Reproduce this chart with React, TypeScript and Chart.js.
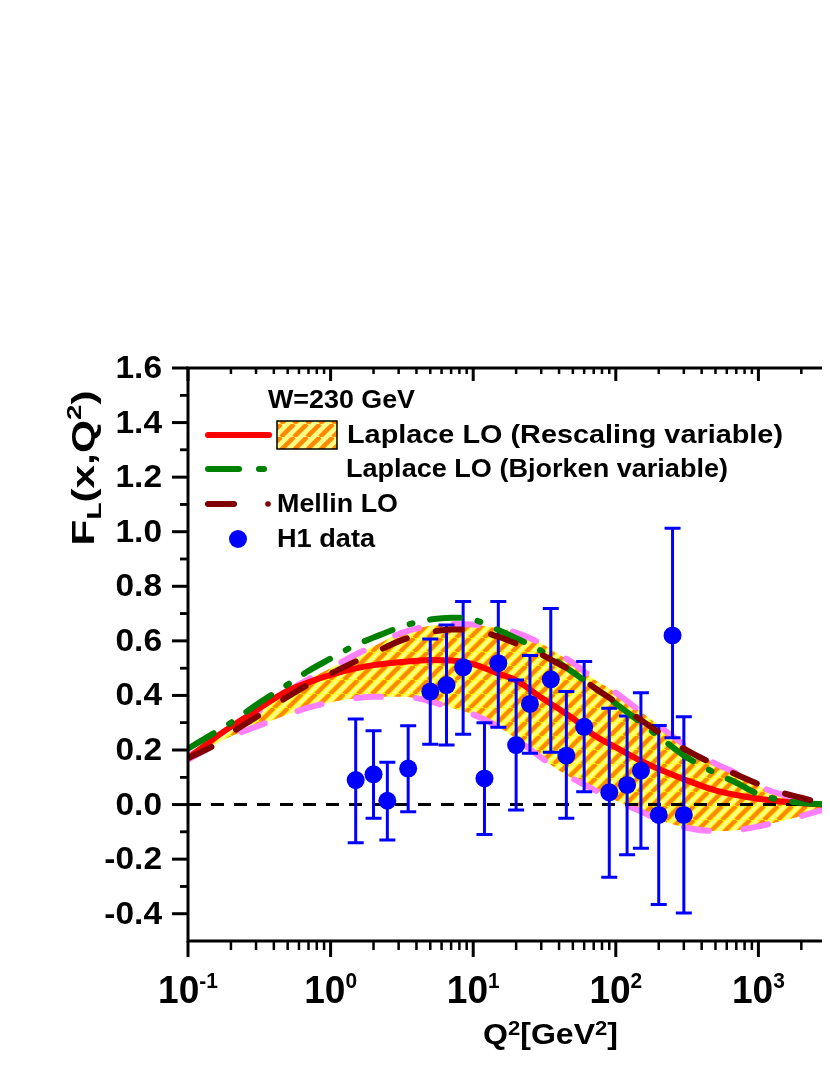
import React, { useEffect, useRef } from 'react';
import { Chart, registerables } from 'chart.js';

Chart.register(...registerables);

// ---------------- data ----------------
const q2Grid = [0.1, 0.15, 0.2, 0.3, 0.5, 0.7, 1, 1.5, 2, 3, 4, 5, 7, 10, 15, 20, 30, 40, 50, 70, 100, 150, 200, 300, 500, 700, 1000, 1500, 2000, 3000];
const laplaceRescaling = [0.17, 0.24, 0.285, 0.345, 0.417, 0.448, 0.475, 0.499, 0.511, 0.522, 0.527, 0.53, 0.528, 0.515, 0.48, 0.455, 0.392, 0.35, 0.316, 0.255, 0.21, 0.16, 0.13, 0.093, 0.052, 0.035, 0.021, 0.01, 0.005, 0.0];
const laplaceRescalingUpper = [0.178, 0.228, 0.27, 0.335, 0.415, 0.46, 0.5, 0.55, 0.58, 0.625, 0.645, 0.655, 0.662, 0.66, 0.645, 0.63, 0.59, 0.55, 0.52, 0.46, 0.41, 0.34, 0.29, 0.22, 0.15, 0.115, 0.068, 0.035, 0.018, 0.0];
const laplaceRescalingLower = [0.165, 0.215, 0.25, 0.285, 0.33, 0.355, 0.375, 0.39, 0.395, 0.395, 0.39, 0.378, 0.355, 0.33, 0.285, 0.24, 0.172, 0.125, 0.095, 0.055, 0.015, -0.025, -0.055, -0.083, -0.097, -0.094, -0.08, -0.058, -0.042, -0.015];
const laplaceBjorken = [0.205, 0.26, 0.3, 0.365, 0.44, 0.49, 0.535, 0.585, 0.612, 0.648, 0.668, 0.678, 0.685, 0.678, 0.64, 0.61, 0.563, 0.52, 0.485, 0.43, 0.37, 0.3, 0.25, 0.18, 0.115, 0.08, 0.038, 0.015, 0.006, 0.0];
const mellinLO = [0.17, 0.215, 0.262, 0.32, 0.395, 0.44, 0.48, 0.525, 0.555, 0.598, 0.62, 0.632, 0.642, 0.64, 0.615, 0.59, 0.55, 0.515, 0.487, 0.43, 0.375, 0.31, 0.265, 0.205, 0.145, 0.11, 0.075, 0.042, 0.025, 0.0];

const h1Q2 = [1.5, 2, 2.5, 3.5, 5, 6.5, 8.5, 12, 15, 20, 25, 35, 45, 60, 90, 120, 150, 200, 250, 300];
const h1FL = [0.09, 0.111, 0.014, 0.132, 0.414, 0.438, 0.503, 0.096, 0.518, 0.218, 0.369, 0.459, 0.179, 0.285, 0.045, 0.072, 0.124, -0.038, 0.62, -0.038];
const h1Low = [-0.14, -0.05, -0.13, -0.026, 0.221, 0.218, 0.258, -0.11, 0.283, -0.02, 0.188, 0.192, -0.05, 0.047, -0.266, -0.184, -0.16, -0.366, 0.245, -0.397];
const h1High = [0.314, 0.271, 0.155, 0.289, 0.607, 0.658, 0.744, 0.3, 0.744, 0.457, 0.546, 0.719, 0.414, 0.524, 0.353, 0.325, 0.41, 0.29, 1.013, 0.322];

const yTickValues = [-0.4, -0.2, 0.0, 0.2, 0.4, 0.6, 0.8, 1.0, 1.2, 1.4, 1.6];
const xTickExponents = [-1, 0, 1, 2, 3, 4];
const legendTitle = 'W=230 GeV';
const legendLabels = ['Laplace LO (Rescaling variable)', 'Laplace LO (Bjorken variable)', 'Mellin LO', 'H1 data'];
const xAxisTitle = ['Q', '2', '[GeV', '2', ']'];
const yAxisTitle = ['F', 'L', '(x,Q', '2', ')'];

// ---------------- layout / style ----------------
const FONT = '"Liberation Sans", Arial, Helvetica, sans-serif';
const M = 8; // body margin
const CW = 960;
const CH = 1059;
const pg = (v: number) => v - M; // page coordinate -> canvas coordinate

const RED = '#FF0000';
const GREEN = '#008000';
const MAROON = '#800000';
const PINK = '#FF80FF';
const BLUE = '#0000FF';
const ORANGE = '#FF8800';

type Part = { t: string; size: number; dy?: number };

function drawRich(ctx: CanvasRenderingContext2D, parts: Part[], x: number, y: number, align: 'left' | 'center' | 'right', targetWidth?: number, stretch = 1) {
  ctx.save();
  const widths = parts.map((pt) => {
    ctx.font = `bold ${pt.size}px ${FONT}`;
    return ctx.measureText(pt.t).width;
  });
  const total = widths.reduce((a, b) => a + b, 0);
  const sx = targetWidth ? targetWidth / total : stretch;
  ctx.translate(x, y);
  ctx.scale(sx, 1);
  let cx = align === 'center' ? -total / 2 : align === 'right' ? -total : 0;
  ctx.textBaseline = 'alphabetic';
  ctx.textAlign = 'left';
  ctx.fillStyle = '#000';
  parts.forEach((pt, i) => {
    ctx.font = `bold ${pt.size}px ${FONT}`;
    ctx.fillText(pt.t, cx, pt.dy || 0);
    cx += widths[i];
  });
  ctx.restore();
}

function makePattern(ctx: CanvasRenderingContext2D, period: number, bg: string, stripe: string, stripeW: number, pale?: string, paleW?: number) {
  const c = document.createElement('canvas');
  c.width = period;
  c.height = period;
  const g = c.getContext('2d')!;
  g.fillStyle = bg;
  g.fillRect(0, 0, period, period);
  const diag = (off: number, color: string, w: number) => {
    g.strokeStyle = color;
    g.lineWidth = w;
    for (let k = -1; k <= 1; k++) {
      const o = off + k * period;
      g.beginPath();
      g.moveTo(o, period);
      g.lineTo(o + period, 0);
      g.stroke();
    }
  };
  diag(0, stripe, stripeW);
  if (pale) diag(period / 2, pale, paleW || 2);
  return ctx.createPattern(c, 'repeat') as CanvasPattern;
}

function seg(ctx: CanvasRenderingContext2D, x1: number, y1: number, x2: number, y2: number, color: string, w: number, cap: CanvasLineCap = 'round') {
  ctx.save();
  ctx.strokeStyle = color;
  ctx.lineWidth = w;
  ctx.lineCap = cap;
  ctx.setLineDash([]);
  ctx.beginPath();
  ctx.moveTo(x1, y1);
  ctx.lineTo(x2, y2);
  ctx.stroke();
  ctx.restore();
}

const POINTS_INDEX = 3;

export default function App() {
  const ref = useRef<HTMLCanvasElement>(null);

  useEffect(() => {
    const canvas = ref.current!;
    const ctx0 = canvas.getContext('2d')!;
    const bandPattern = makePattern(ctx0, 14, '#FFFF00', ORANGE, 4.2, '#FFFF90', 3.2);
    const legendPattern = makePattern(ctx0, 13, '#FFFF88', ORANGE, 4.5);

    const curve = (ys: number[]) => q2Grid.map((q, i) => ({ x: q, y: ys[i] }));

    const plugin = {
      id: 'customFrame',
      beforeDatasetDraw(chart: any, args: any) {
        if (args.index !== POINTS_INDEX) return;
        const { ctx, chartArea: ca, scales } = chart;
        const xs = scales.x;
        const ys = scales.y;
        ctx.save();
        // zero reference line
        ctx.strokeStyle = '#000';
        ctx.lineWidth = 3;
        ctx.setLineDash([13, 10]);
        const y0 = ys.getPixelForValue(0);
        ctx.beginPath();
        ctx.moveTo(ca.left, y0);
        ctx.lineTo(CW, y0);
        ctx.stroke();
        ctx.setLineDash([]);
        // error bars
        ctx.strokeStyle = BLUE;
        ctx.lineWidth = 3;
        h1Q2.forEach((q, i) => {
          const px = xs.getPixelForValue(q);
          const a = ys.getPixelForValue(h1Low[i]);
          const b = ys.getPixelForValue(h1High[i]);
          ctx.beginPath();
          ctx.moveTo(px, a);
          ctx.lineTo(px, b);
          ctx.moveTo(px - 8, a);
          ctx.lineTo(px + 8, a);
          ctx.moveTo(px - 8, b);
          ctx.lineTo(px + 8, b);
          ctx.stroke();
        });
        ctx.restore();
      },
      afterDraw(chart: any) {
        const { ctx, chartArea: ca, scales } = chart;
        const xs = scales.x;
        const ys = scales.y;
        ctx.save();
        ctx.strokeStyle = '#000';
        ctx.lineCap = 'butt';
        ctx.setLineDash([]);
        // frame
        ctx.lineWidth = 3;
        ctx.beginPath();
        ctx.moveTo(ca.left, ca.bottom);
        ctx.lineTo(ca.left, ca.top);
        ctx.lineTo(ca.right, ca.top);
        ctx.lineTo(ca.right, ca.bottom);
        ctx.closePath();
        ctx.stroke();

        // y ticks
        yTickValues.forEach((v) => {
          const py = ys.getPixelForValue(v);
          seg(ctx, ca.left - 16, py, ca.left, py, '#000', 3, 'butt');
          seg(ctx, ca.right, py, ca.right - 16, py, '#000', 3, 'butt');
          [v - 0.1, v + 0.1].forEach((m) => {
            if (m > -0.5 + 1e-6 && m < 1.6 - 1e-6) {
              const pm = ys.getPixelForValue(m);
              seg(ctx, ca.left - 8, pm, ca.left, pm, '#000', 2.5, 'butt');
              seg(ctx, ca.right, pm, ca.right - 8, pm, '#000', 2.5, 'butt');
            }
          });
          drawRich(ctx, [{ t: v.toFixed(1), size: 31 }], pg(162), py + 10, 'right', undefined, 1.08);
        });

        // x ticks
        xTickExponents.forEach((k) => {
          const px = xs.getPixelForValue(Math.pow(10, k));
          seg(ctx, px, ca.bottom, px, ca.bottom + 16, '#000', 3, 'butt');
          seg(ctx, px, ca.top, px, ca.top + 13, '#000', 3, 'butt');
          if (k < 4) {
            for (let m = 2; m <= 9; m++) {
              const pm = xs.getPixelForValue(m * Math.pow(10, k));
              seg(ctx, pm, ca.bottom, pm, ca.bottom + 9, '#000', 2.5, 'butt');
              seg(ctx, pm, ca.top, pm, ca.top + 6, '#000', 2.5, 'butt');
            }
          }
          drawRich(ctx, [{ t: '10', size: 39 }, { t: String(k), size: 22, dy: -15 }], px, pg(1003), 'center', undefined, 0.95);
        });

        // axis titles
        drawRich(
          ctx,
          [
            { t: xAxisTitle[0], size: 29 },
            { t: xAxisTitle[1], size: 20, dy: -9 },
            { t: xAxisTitle[2], size: 29 },
            { t: xAxisTitle[3], size: 20, dy: -9 },
            { t: xAxisTitle[4], size: 29 },
          ],
          pg(550.5),
          pg(1044),
          'center',
          135
        );
        ctx.save();
        ctx.translate(pg(94), pg(468));
        ctx.rotate(-Math.PI / 2);
        drawRich(
          ctx,
          [
            { t: yAxisTitle[0], size: 32 },
            { t: yAxisTitle[1], size: 21, dy: 7 },
            { t: yAxisTitle[2], size: 32 },
            { t: yAxisTitle[3], size: 21, dy: -13 },
            { t: yAxisTitle[4], size: 32 },
          ],
          0,
          0,
          'center',
          155
        );
        ctx.restore();

        // legend
        drawRich(ctx, [{ t: legendTitle, size: 25 }], pg(268), pg(408), 'left', 147);
        // row 1: red line + hatched box
        seg(ctx, pg(208), pg(435), pg(269), pg(435), RED, 6);
        ctx.fillStyle = legendPattern;
        ctx.fillRect(pg(277), pg(421), 60, 28);
        ctx.lineWidth = 1.5;
        ctx.strokeStyle = '#000';
        ctx.strokeRect(pg(277), pg(421), 60, 28);
        drawRich(ctx, [{ t: legendLabels[0], size: 25 }], pg(347), pg(443), 'left', 436);
        // row 2: green dash-dot
        seg(ctx, pg(208), pg(469), pg(239), pg(469), GREEN, 6);
        seg(ctx, pg(259), pg(469), pg(264), pg(469), GREEN, 6);
        drawRich(ctx, [{ t: legendLabels[1], size: 25 }], pg(346), pg(477), 'left', 382);
        // row 3: maroon dash + small dot
        seg(ctx, pg(208), pg(504), pg(234), pg(504), MAROON, 6);
        ctx.fillStyle = MAROON;
        ctx.beginPath();
        ctx.arc(pg(268), pg(504), 2.8, 0, Math.PI * 2);
        ctx.fill();
        drawRich(ctx, [{ t: legendLabels[2], size: 25 }], pg(277), pg(512), 'left', 121);
        // row 4: blue dot
        ctx.fillStyle = BLUE;
        ctx.beginPath();
        ctx.arc(pg(238), pg(539), 9, 0, Math.PI * 2);
        ctx.fill();
        drawRich(ctx, [{ t: legendLabels[3], size: 25 }], pg(277), pg(547), 'left', 98);

        ctx.restore();
      },
    };

    const chart = new Chart(canvas, {
      type: 'line',
      data: {
        datasets: [
          {
            label: 'band upper',
            data: curve(laplaceRescalingUpper),
            borderColor: PINK,
            borderWidth: 6,
            borderDash: [25, 35],
            borderCapStyle: 'round',
            backgroundColor: bandPattern,
            fill: '+1',
            pointRadius: 0,
            cubicInterpolationMode: 'monotone',
            order: 5,
          },
          {
            label: 'band lower',
            data: curve(laplaceRescalingLower),
            borderColor: PINK,
            borderWidth: 6,
            borderDash: [25, 35],
            borderCapStyle: 'round',
            fill: false,
            pointRadius: 0,
            cubicInterpolationMode: 'monotone',
            order: 4,
          },
          {
            label: legendLabels[0],
            data: curve(laplaceRescaling),
            borderColor: RED,
            borderWidth: 6,
            borderCapStyle: 'round',
            fill: false,
            pointRadius: 0,
            cubicInterpolationMode: 'monotone',
            order: 3,
          },
          {
            label: legendLabels[3],
            data: h1Q2.map((q, i) => ({ x: q, y: h1FL[i] })),
            showLine: false,
            pointRadius: 9,
            pointHoverRadius: 9,
            pointBackgroundColor: BLUE,
            pointBorderColor: BLUE,
            pointBorderWidth: 0,
            order: 2,
          },
          {
            label: legendLabels[1],
            data: curve(laplaceBjorken),
            borderColor: GREEN,
            borderWidth: 6,
            borderDash: [30, 18, 3, 18],
            borderCapStyle: 'round',
            fill: false,
            pointRadius: 0,
            cubicInterpolationMode: 'monotone',
            order: 1,
          },
          {
            label: legendLabels[2],
            data: curve(mellinLO),
            borderColor: MAROON,
            borderWidth: 6,
            borderDash: [26, 30],
            borderCapStyle: 'round',
            fill: false,
            pointRadius: 0,
            cubicInterpolationMode: 'monotone',
            order: 0,
          },
        ],
      },
      options: {
        animation: false,
        responsive: false,
        devicePixelRatio: 1,
        events: [],
        layout: { padding: { left: 180, top: 360, right: CW - 893, bottom: CH - 933 } },
        scales: {
          x: { type: 'logarithmic', min: 0.1, max: 10000, display: false },
          y: { type: 'linear', min: -0.5, max: 1.6, display: false },
        },
        plugins: {
          legend: { display: false },
          tooltip: { enabled: false },
        },
      },
      plugins: [plugin],
    } as any);

    return () => chart.destroy();
  }, []);

  return (
    <div style={{ position: 'relative', width: 822, height: CH, overflow: 'hidden' }}>
      <canvas ref={ref} width={CW} height={CH} style={{ display: 'block' }} />
    </div>
  );
}
